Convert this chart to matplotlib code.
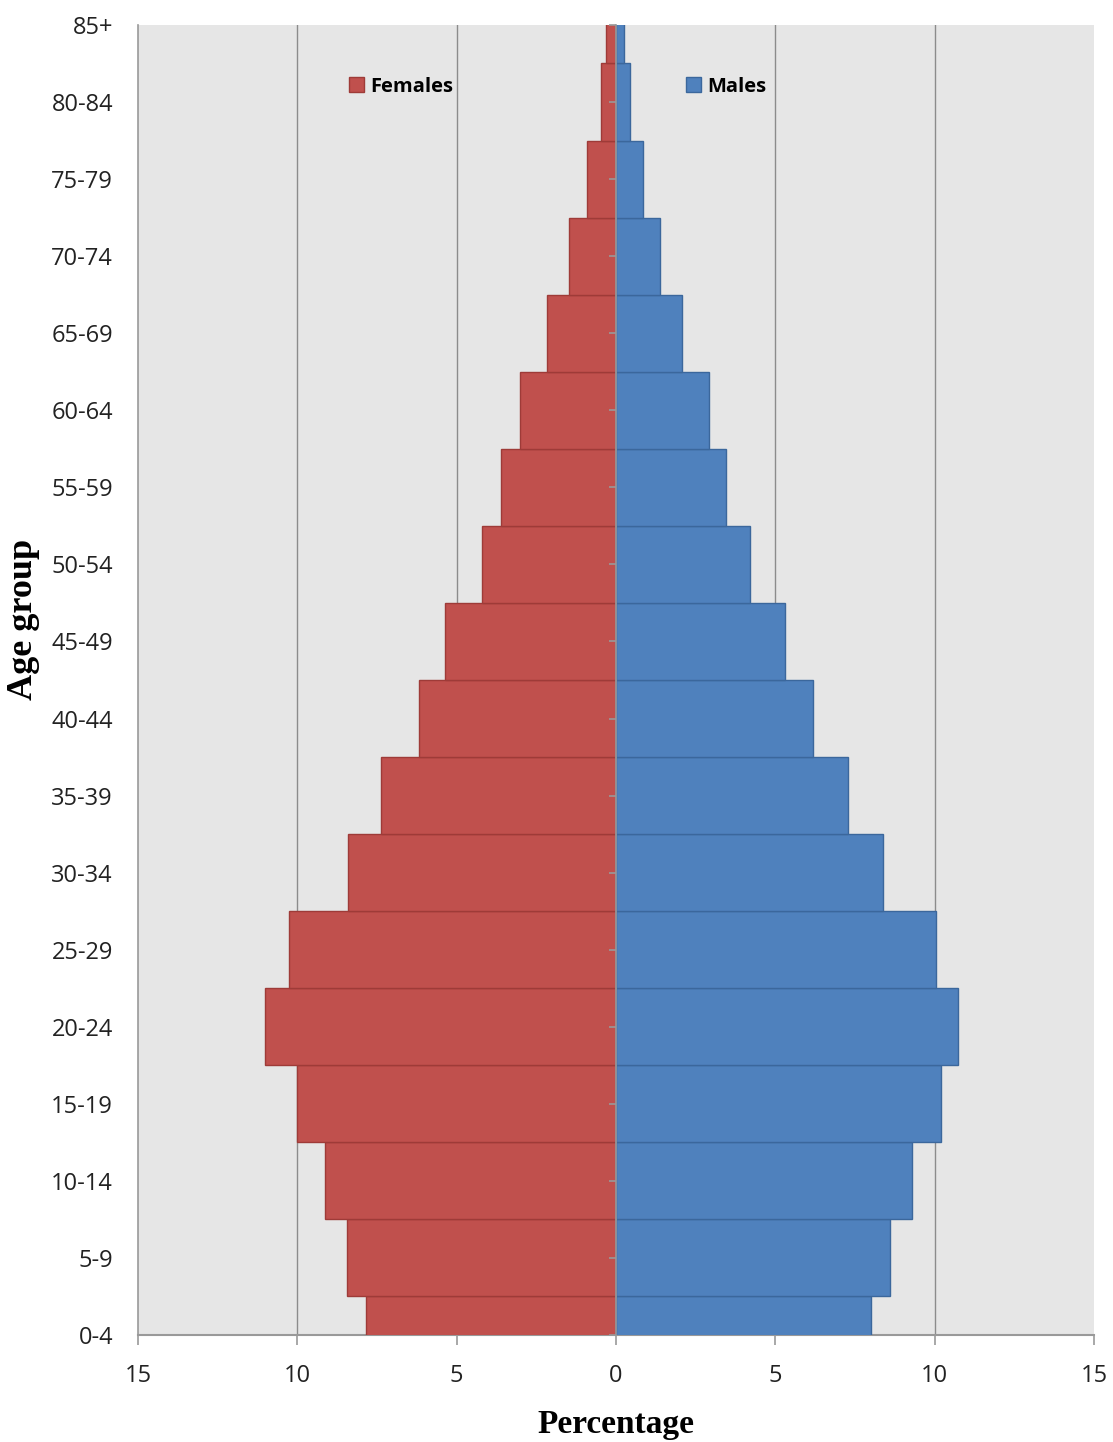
import numpy as np
import matplotlib
matplotlib.use("Agg")
import matplotlib.pyplot as plt
from matplotlib.patches import Patch

# Data (percent of population)
age_groups = ["0-4", "5-9", "10-14", "15-19", "20-24", "25-29", "30-34", "35-39",
              "40-44", "45-49", "50-54", "55-59", "60-64", "65-69", "70-74",
              "75-79", "80-84", "85+"]
females = [7.84, 8.43, 9.12, 10.0, 11.0, 10.25, 8.40, 7.37, 6.18, 5.36,
           4.20, 3.60, 3.01, 2.16, 1.47, 0.91, 0.47, 0.31]
males = [7.99, 8.59, 9.28, 10.19, 10.72, 10.03, 8.37, 7.27, 6.18, 5.30,
         4.20, 3.45, 2.92, 2.07, 1.38, 0.85, 0.44, 0.25]
x_ticks = [-15, -10, -5, 0, 5, 10, 15]

RED = "#C0504D"
BLUE = "#4F81BD"
GRID = "#8C8C8C"
AXIS = "#999999"

fig = plt.figure(figsize=(11.13, 14.42), dpi=100)
ax = fig.add_axes([0.124, 0.0742, 0.859, 0.9085])
ax.set_facecolor("#E6E6E6")

y = np.arange(len(age_groups))
ax.barh(y, -np.array(females), height=1.0, color=RED, edgecolor="#9E3B38",
        linewidth=1.0, zorder=3)
ax.barh(y, males, height=1.0, color=BLUE, edgecolor="#3B679C",
        linewidth=1.0, zorder=3)

ax.set_xlim(-15, 15)
ax.set_ylim(0, len(age_groups) - 1)

# vertical gridlines
for xv in x_ticks[1:-1]:
    if xv != 0:
        ax.axvline(xv, color=GRID, lw=1.0, zorder=1)

ax.set_xticks(x_ticks)
ax.set_xticklabels([str(abs(v)) for v in x_ticks])
ax.set_yticks(y)
ax.set_yticklabels(age_groups)

for lab in ax.get_xticklabels() + ax.get_yticklabels():
    lab.set_fontfamily("Open Sans")
    lab.set_fontsize(17)
    lab.set_color("#222222")

ax.tick_params(axis="x", length=7, width=1.2, color=AXIS, pad=14)
ax.tick_params(axis="y", length=0, pad=18)

for s in ["top", "right"]:
    ax.spines[s].set_visible(False)
ax.spines["left"].set_color(AXIS)
ax.spines["bottom"].set_color(AXIS)
ax.spines["left"].set_linewidth(1.2)
ax.spines["bottom"].set_linewidth(1.5)

# center axis at x = 0 with small ticks pointing left
cax = ax.twinx()
cax.set_ylim(ax.get_ylim())
for s in ["top", "right", "bottom"]:
    cax.spines[s].set_visible(False)
cax.spines["left"].set_position(("data", 0))
cax.spines["left"].set_color(AXIS)
cax.spines["left"].set_linewidth(1.2)
cax.yaxis.set_ticks_position("left")
cax.set_yticks(y)
cax.set_yticklabels([])
cax.tick_params(axis="y", length=5, width=1.2, color=AXIS, direction="out")

ax.set_xlabel("Percentage", family="Liberation Serif", weight="bold",
              size=24, labelpad=15)
ax.set_ylabel("Age group", family="Liberation Serif", weight="bold", size=26)
ax.yaxis.set_label_coords(-0.103, 0.546)

# legends
leg_kw = dict(frameon=False, handlelength=0.75, handleheight=0.75,
              handletextpad=0.3, borderaxespad=0, borderpad=0,
              prop=dict(family="Open Sans", weight="bold", size=14.5))
f_handle = Patch(facecolor=RED, edgecolor="#9E3B38")
m_handle = Patch(facecolor=BLUE, edgecolor="#3B679C")
leg1 = cax.legend([f_handle], ["Females"], loc="center left",
                  bbox_to_anchor=(0.221, 0.953), **leg_kw)
cax.add_artist(leg1)
cax.legend([m_handle], ["Males"], loc="center left",
           bbox_to_anchor=(0.573, 0.953), **leg_kw)

fig.savefig("out.png", dpi=100)
